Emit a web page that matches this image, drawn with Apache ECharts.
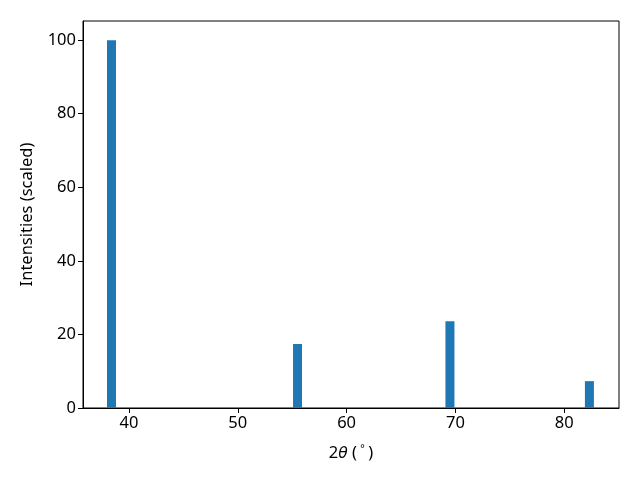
<!DOCTYPE html>
<html>
<head>
<meta charset="utf-8">
<script src="https://cdn.jsdelivr.net/npm/echarts@6/dist/echarts.min.js"></script>
<style>html,body{margin:0;padding:0;background:#fff}#c{width:640px;height:480px}</style>
</head>
<body>
<div id="c"></div>
<script>
var peakPositions = [38.39, 55.49, 69.5, 82.32];
var peakIntensities = [100, 17.4, 23.6, 7.3];
var xTicks = [40, 50, 60, 70, 80];
var yTicks = [0, 20, 40, 60, 80, 100];

var chart = echarts.init(document.getElementById('c'), null, {renderer: 'canvas'});
var font = 'Noto Sans';
var fs = 16.5;
var data = peakPositions.map(function (x, i) { return [x, peakIntensities[i]]; });
chart.setOption({
  animation: false,
  backgroundColor: '#fff',
  grid: {left: 83, right: 21, top: 21, bottom: 72, show: true, borderColor: '#000', borderWidth: 1, containLabel: false},
  xAxis: {
    type: 'value', min: 35.77, max: 85.04,
    name: '{a|2}{b|θ}{a| (}{c|°}{a|)}', nameLocation: 'middle', nameGap: 36,
    nameTextStyle: {rich: {
      a: {fontFamily: font, fontSize: fs, color: '#000'},
      b: {fontFamily: 'DejaVu Sans', fontSize: fs - 1, fontStyle: 'italic', color: '#000'},
      c: {fontFamily: 'DejaVu Sans', fontSize: 11, color: '#000', verticalAlign: 'top', padding: [0, 3, 8, 3]}
    }},
    axisLine: {show: true, lineStyle: {color: '#000', width: 1}},
    axisTick: {show: true, inside: false, length: 5, lineStyle: {color: '#000'}, customValues: xTicks},
    axisLabel: {fontFamily: font, fontSize: fs, color: '#000', margin: 7, customValues: xTicks},
    splitLine: {show: false}
  },
  yAxis: {
    type: 'value', min: 0, max: 105.2,
    name: 'Intensities (scaled)', nameLocation: 'middle', nameGap: 47,
    nameTextStyle: {fontFamily: font, fontSize: fs, color: '#000'},
    axisLine: {show: true, lineStyle: {color: '#000', width: 1}},
    axisTick: {show: true, inside: false, length: 5, lineStyle: {color: '#000'}, customValues: yTicks},
    axisLabel: {fontFamily: font, fontSize: fs, color: '#000', margin: 7, customValues: yTicks},
    splitLine: {show: false}
  },
  series: [{
    type: 'bar', data: data, barWidth: 9,
    itemStyle: {color: '#1f77b4'}
  }]
});
</script>
</body>
</html>
